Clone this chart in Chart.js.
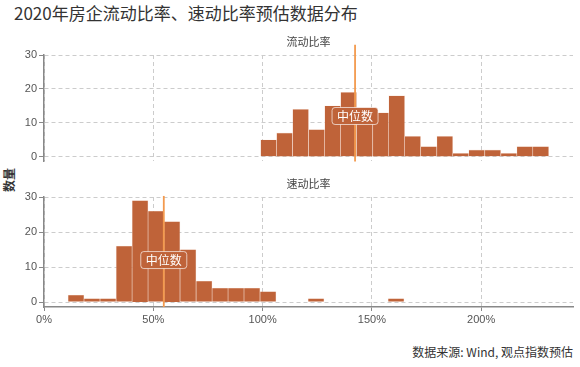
<!DOCTYPE html>
<html>
<head>
<meta charset="utf-8">
<script src="https://cdn.jsdelivr.net/npm/chart.js@4.4.1/dist/chart.umd.min.js"></script>
<style>
  body { margin: 0; background: #fff; }
  #wrap { position: relative; width: 580px; height: 367px; overflow: hidden;
          font-family: 'Noto Sans CJK SC', 'Liberation Sans', sans-serif; color: #333; }
  #title { position: absolute; left: 14px; top: 2px; font-size: 17px; line-height: 22px; color: #333; }
  #ylab { position: absolute; left: -7px; top: 171px; width: 32px; text-align: center; font-size: 12px;
          font-weight: bold; line-height: 18px; transform: rotate(-90deg); color: #333; }
  #source { position: absolute; right: 7px; top: 343px; font-size: 12px; line-height: 18px; color: #333; }
  #c1wrap { position: absolute; left: 0; top: 35px; width: 580px; height: 135px; }
  #c2wrap { position: absolute; left: 0; top: 177px; width: 580px; height: 150px; }
</style>
</head>
<body>
<div id="wrap">
  <div id="title">2020年房企流动比率、速动比率预估数据分布</div>
  <div id="ylab">数量</div>
  <div id="c1wrap"><canvas id="c1"></canvas></div>
  <div id="c2wrap"><canvas id="c2"></canvas></div>
  <div id="source">数据来源: Wind, 观点指数预估</div>
</div>
<script>
// 流动比率 histogram: bin edges (%) and counts
var currentEdges = [99.1, 106.4, 113.7, 121.1, 128.4, 135.7, 143.0, 150.4, 157.7, 165.0,
                    172.3, 179.7, 187.0, 194.3, 201.6, 209.0, 216.3, 223.6, 230.9];
var currentCounts = [5, 7, 14, 8, 15, 19, 12, 13, 18, 6, 3, 6, 1, 2, 2, 1, 3, 3];

// 速动比率 histogram
var quickEdges = [11.0, 18.3, 25.6, 33.0, 40.3, 47.6, 54.9, 62.2, 69.6, 76.9, 84.2,
                  91.5, 98.8, 106.2, 113.5, 120.8, 128.1, 135.4, 142.8, 150.1, 157.4, 164.7];
var quickCounts = [2, 1, 1, 16, 29, 26, 23, 15, 6, 4, 4, 4, 3, 0, 0, 1, 0, 0, 0, 0, 1];

var panelNames = ['流动比率', '速动比率'];
var medians = [142.3, 54.8];
var medianText = '中位数';
var xTicks = [0, 50, 100, 150, 200];
var yTicks = [0, 10, 20, 30];

var BAR = '#BF6339';
var GRID = '#cccccc';
var AXIS = '#888888';

Chart.defaults.font.family = "'Liberation Sans', 'Noto Sans CJK SC', sans-serif";
Chart.defaults.font.size = 11;
Chart.defaults.color = '#555';

function toPoints(edges, counts) {
  var pts = [];
  for (var i = 0; i < counts.length; i++) {
    pts.push({ x: (edges[i] + edges[i + 1]) / 2, y: counts[i] });
  }
  return pts;
}

function hasCount(c) { return c.raw && c.raw.y > 0; }

// draws the panel name, the median line and its label
var panelPlugin = {
  id: 'panelDeco',
  afterDatasetsDraw: function(chart, args, opts) {
    var ctx = chart.ctx, area = chart.chartArea;
    var xs = chart.scales.x, ys = chart.scales.y;
    ctx.save();
    ctx.font = "11px 'Noto Sans CJK SC'";
    ctx.fillStyle = '#444';
    ctx.textAlign = 'center';
    ctx.textBaseline = 'middle';
    ctx.fillText(opts.name, (area.left + area.right) / 2, area.top - 13);

    var mx = xs.getPixelForValue(opts.median);
    ctx.strokeStyle = '#F39A4E';
    ctx.lineWidth = 1.8;
    ctx.beginPath();
    ctx.moveTo(mx, ys.getPixelForValue(opts.lineTop));
    ctx.lineTo(mx, area.bottom);
    ctx.stroke();

    var my = ys.getPixelForValue(opts.labelAt);
    var w = 46, h = 17;
    ctx.beginPath();
    ctx.roundRect(mx - w / 2, my - h / 2, w, h, 3);
    ctx.fillStyle = BAR;
    ctx.fill();
    ctx.strokeStyle = 'rgba(255,255,255,0.65)';
    ctx.lineWidth = 1;
    ctx.stroke();
    ctx.fillStyle = '#fff';
    ctx.font = "12px 'Noto Sans CJK SC'";
    ctx.fillText(opts.text, mx, my + 0.5);
    ctx.restore();
  }
};

function makeChart(id, edges, counts, idx, showX) {
  return new Chart(document.getElementById(id), {
    type: 'bar',
    data: {
      datasets: [{
        data: toPoints(edges, counts),
        backgroundColor: function(c) { return hasCount(c) ? BAR : 'rgba(0,0,0,0)'; },
        borderColor: 'rgba(240,200,180,0.4)',
        borderWidth: function(c) { return hasCount(c) ? 0.6 : 0; },
        barPercentage: 1,
        categoryPercentage: 1
      }]
    },
    options: {
      responsive: true,
      maintainAspectRatio: false,
      animation: false,
      layout: { padding: { top: 20, right: 7, bottom: showX ? 0 : 5, left: 0 } },
      plugins: {
        legend: { display: false },
        tooltip: { enabled: false },
        panelDeco: {
          name: panelNames[idx], median: medians[idx], labelAt: 12,
          lineTop: showX ? 30.3 : 33, text: medianText
        }
      },
      scales: {
        x: {
          type: 'linear',
          offset: false,
          min: 0,
          max: 242,
          afterBuildTicks: function(s) { s.ticks = xTicks.map(function(v) { return { value: v }; }); },
          afterFit: function(s) { s.height = showX ? 20 : 0; },
          grid: { offset: false, color: GRID, drawTicks: showX, tickLength: 4, tickColor: AXIS, tickBorderDash: [] },
          border: { display: showX, color: AXIS, width: 1.5, dash: [4, 3] },
          ticks: {
            display: showX, padding: 2, color: '#555',
            callback: function(v) { return v + '%'; }
          }
        },
        y: {
          min: -1.4,
          max: 30,
          afterBuildTicks: function(s) { s.ticks = yTicks.map(function(v) { return { value: v }; }); },
          afterFit: function(s) { s.width = 44; },
          grid: { color: GRID, tickLength: 5, tickColor: AXIS, tickBorderDash: [] },
          border: { color: AXIS, width: 1.5, dash: [4, 3] },
          ticks: { padding: 2, color: '#555' }
        }
      }
    },
    plugins: [panelPlugin]
  });
}

makeChart('c1', currentEdges, currentCounts, 0, false);
makeChart('c2', quickEdges, quickCounts, 1, true);
</script>
</body>
</html>
